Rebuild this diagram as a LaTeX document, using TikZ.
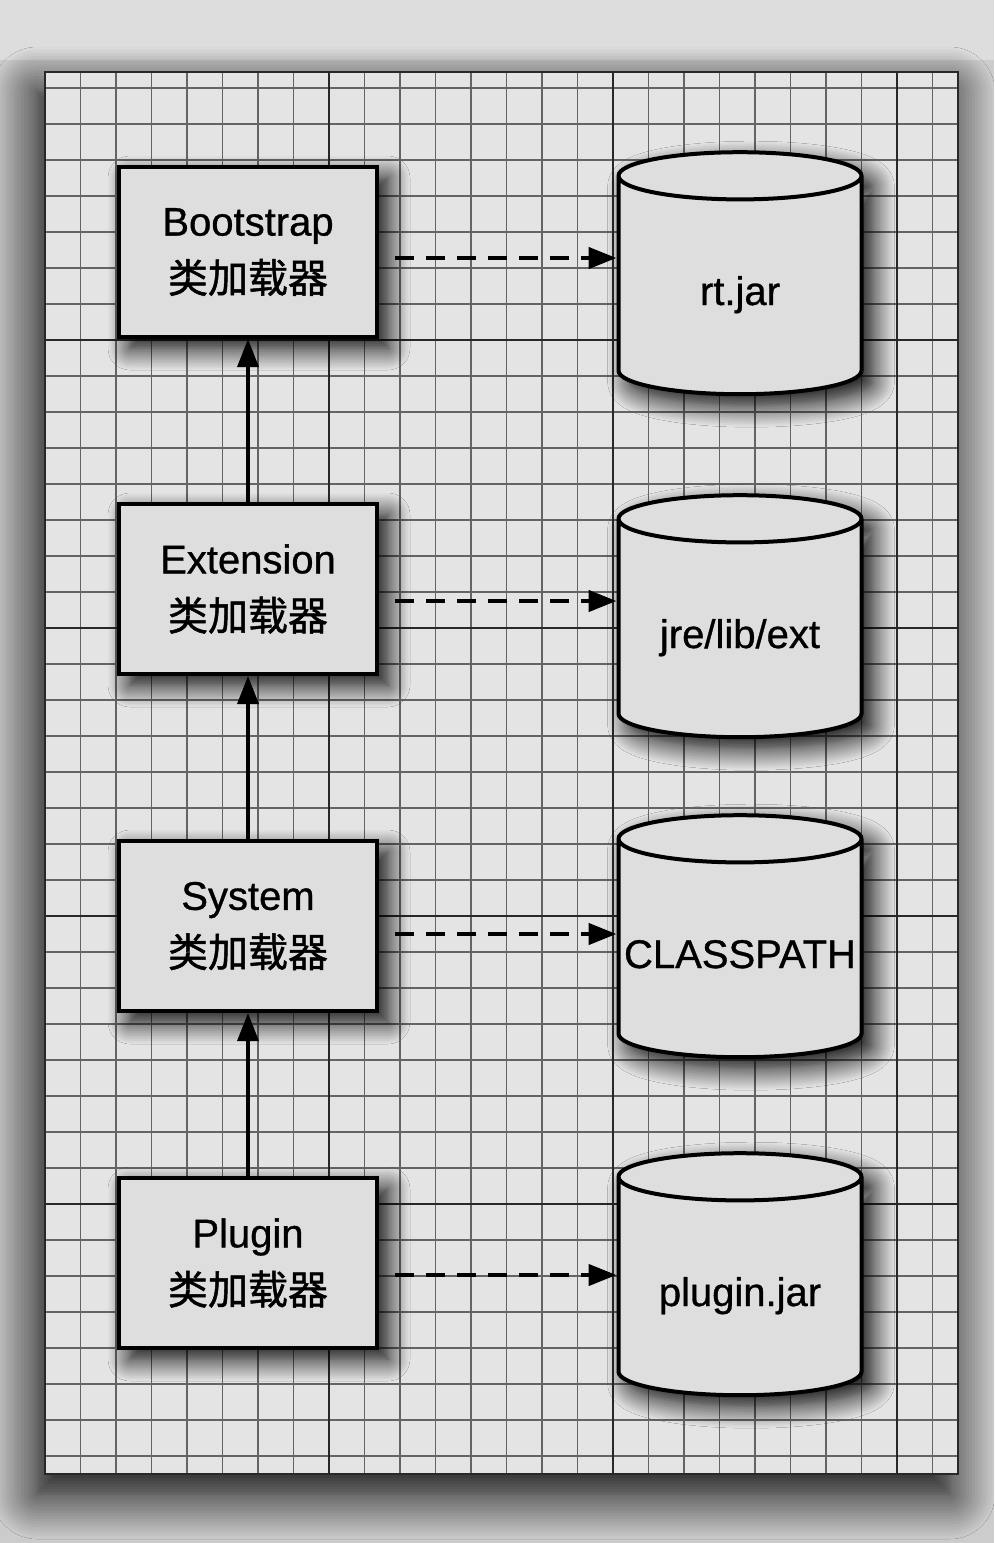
\documentclass[tikz,border=0pt]{standalone}
\usepackage{fontspec}
\setmainfont{Liberation Sans}
\newfontfamily\labelfont{Liberation Sans}[FakeBold=0.8]
\newfontfamily\cjk{Noto Sans CJK SC}[FakeBold=1.2]
\usetikzlibrary{positioning,shapes.geometric,arrows.meta,shadows.blur}

\definecolor{paper}{RGB}{204,204,204}
\definecolor{sheet}{RGB}{228,228,228}
\definecolor{boxfill}{RGB}{222,222,222}
\definecolor{minorline}{RGB}{100,100,100}
\definecolor{majorline}{RGB}{40,40,40}

\begin{document}
\begin{tikzpicture}[x=1pt,y=-1pt,>={Triangle[length=28pt,width=21pt,fill=black]},line width=3.5pt,node distance=337pt,
    loader/.style={draw,line width=4pt,fill=boxfill,minimum width=258pt,minimum height=170pt,align=center,font=\labelfont\fontsize{40}{57}\selectfont,
        blur shadow={shadow xshift=11pt,shadow yshift=-11pt,shadow blur radius=22pt,shadow blur steps=14,shadow opacity=100}},
    store/.style={cylinder,shape border rotate=90,draw,line width=4pt,fill=boxfill,aspect=0.2,text width=236pt,text height=46pt,text depth=8pt,inner xsep=0pt,align=center,minimum width=243pt,minimum height=242pt,font=\labelfont\fontsize{40}{48}\selectfont,
        blur shadow={shadow xshift=11pt,shadow yshift=-11pt,shadow blur radius=22pt,shadow blur steps=14,shadow opacity=100}}]
    \useasboundingbox (0,0) rectangle (994,1543);
    \fill[paper] (0,0) rectangle (994,1543);
    \fill[white,opacity=0.35] (0,0) rectangle (994,60);

    % grid paper
    \fill[sheet,blur shadow={shadow xshift=-8pt,shadow yshift=-20pt,shadow blur radius=45pt,shadow blur steps=16,shadow opacity=100}] (45,72) rectangle (958,1474);
    \begin{scope}
        \clip (45,72) rectangle (958,1474);
        \foreach \i in {1,...,25}
            \draw[line width=1.5pt,minorline] ({45+35.5*\i},72) -- ({45+35.5*\i},1474);
        \foreach \j in {0,...,38}
            \draw[line width=1.5pt,minorline] (45,{88+36*\j}) -- (958,{88+36*\j});
        \foreach \i in {8,16,24}
            \draw[line width=2pt,majorline] ({45+35.5*\i},72) -- ({45+35.5*\i},1474);
        \foreach \j in {7,15,23,31}
            \draw[line width=2pt,majorline] (45,{88+36*\j}) -- (958,{88+36*\j});
    \end{scope}
    \draw[line width=2.5pt,majorline] (45,72) rectangle (958,1474);

    \node[loader] (boot) at (248,252) {Bootstrap\\{\cjk 类加载器}};
    \node[loader] (ext) [below of=boot] {Extension\\{\cjk 类加载器}};
    \node[loader] (sys) [below of=ext] {System\\{\cjk 类加载器}};
    \node[loader] (plugin) [below of=sys] {Plugin\\{\cjk 类加载器}};

    \node[store] (rtjar) [right of=boot,node distance=492pt,yshift=-34pt] {rt.jar};
    \node[store] (extdir) [right of=ext,node distance=492pt,yshift=-40pt] {jre/lib/ext};
    \node[store] (classpath) [right of=sys,node distance=492pt,yshift=-23pt] {CLASSPATH};
    \node[store] (pluginjar) [right of=plugin,node distance=492pt,yshift=-24pt] {plugin.jar};

    \path[->]
        (ext) edge (boot)
        (sys) edge (ext)
        (plugin) edge (sys)
    ;
    \path[->,dash pattern=on 19pt off 12pt,line width=4.5pt,shorten <=16pt]
        ([yshift=-6pt]boot.east) edge ([yshift=-6pt]boot.east -| rtjar.180)
        ([yshift=-12pt]ext.east) edge ([yshift=-12pt]ext.east -| extdir.180)
        ([yshift=-8pt]sys.east) edge ([yshift=-8pt]sys.east -| classpath.180)
        ([yshift=-12pt]plugin.east) edge ([yshift=-12pt]plugin.east -| pluginjar.180)
    ;
\end{tikzpicture}
\end{document}
